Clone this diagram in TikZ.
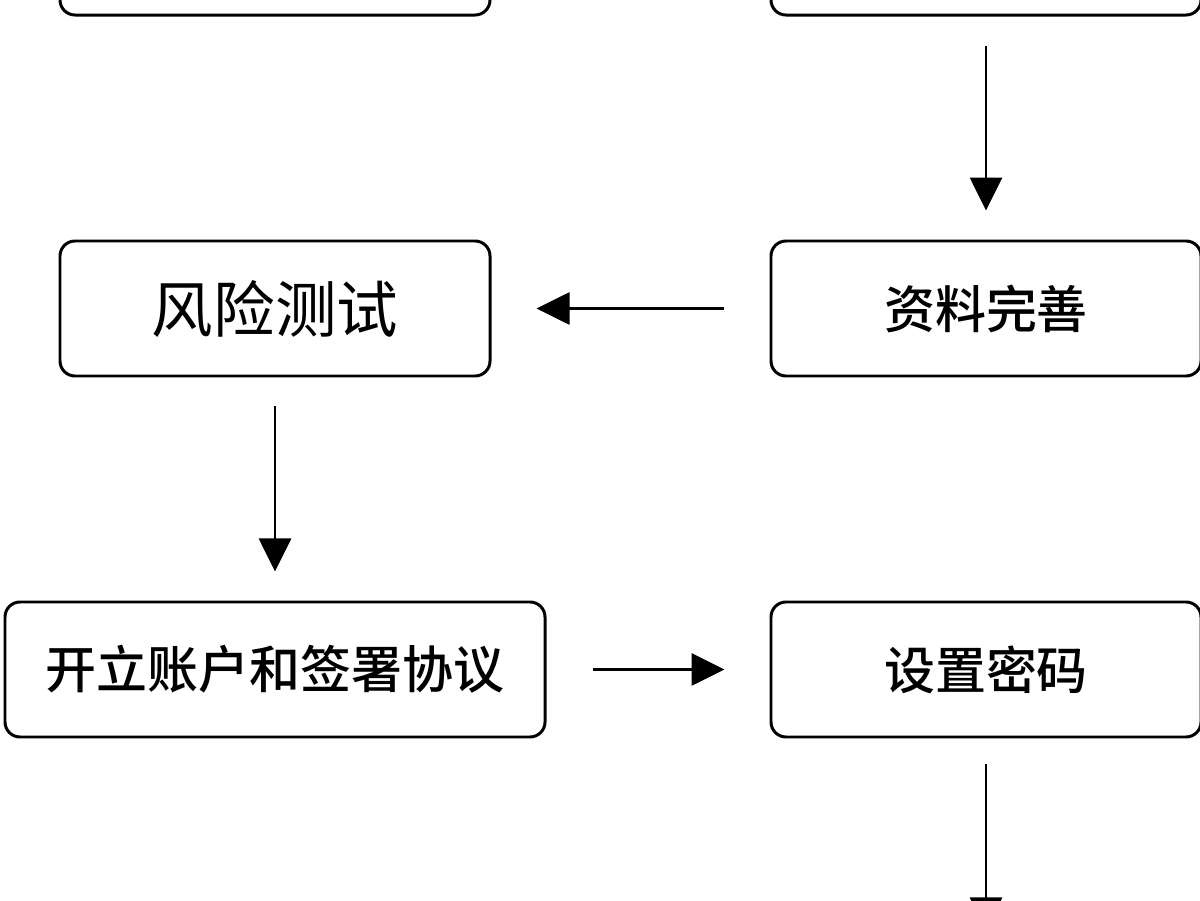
\documentclass[tikz,border=0pt]{standalone}
\usepackage{fontspec}
\newfontfamily\cjk{Noto Sans CJK SC}
\newfontfamily\cjkmed{Noto Sans CJK SC Medium}
\usetikzlibrary{arrows.meta, positioning}
\tikzset{
    block/.style = {rectangle, draw, line width=1.7pt, rounded corners=0.3cm, minimum height=2.7cm, minimum width=8.6cm, text centered, font=\cjkmed\fontsize{29pt}{34pt}\selectfont},
    wideblock/.style = {block, minimum width=10.8cm},
    line/.style = {draw, line width=1.6pt, -{Triangle[length=0.66cm, width=0.64cm]}},
    vline/.style = {line, shorten <=0.58cm, shorten >=0.58cm},
    hline/.style = {line, shorten <=0.92cm, shorten >=0.9cm}
}
\begin{document}
\begin{tikzpicture}
        \useasboundingbox (0,0) rectangle (24,-18);
        \clip (0,0) rectangle (24,-18);

        % Top row (cut off)
        \node [block] (topleft) at (5.5,1.05) {};
        \node [block, right=5.56cm of topleft] (topright) {};

        % Middle row
        \node [block, below=4.46cm of topright] (complete) {资料完善};
        \node [block, below=4.46cm of topleft, font=\cjk\fontsize{35pt}{40pt}\selectfont] (risktest) {风险测试};

        % Bottom row
        \node [wideblock, below=4.46cm of risktest] (openacct) {开立账户和签署协议};
        \node [block, below=4.46cm of complete] (setpwd) {设置密码};
        \coordinate [below=3.84cm of setpwd.south] (nextstep);

        % Edges
        \path [vline] (topright) -- (complete);
        \path [hline] (complete) -- (risktest);
        \path [vline] (risktest) -- (openacct);
        \path [hline] (openacct) -- (setpwd);
        \path [line, shorten <=0.52cm] (setpwd) -- (nextstep);

    \end{tikzpicture}
\end{document}
